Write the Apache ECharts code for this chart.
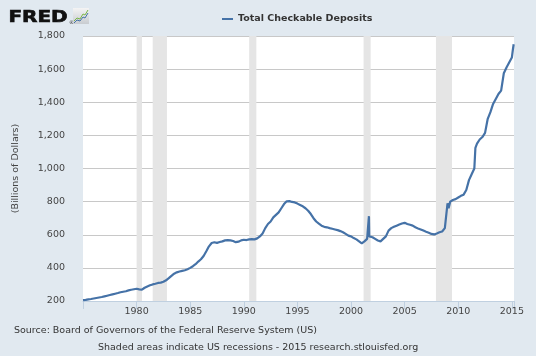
<!DOCTYPE html>
<html>
<head>
<meta charset="utf-8">
<script src="https://cdn.jsdelivr.net/npm/echarts@6/dist/echarts.min.js"></script>
<style>
html,body{margin:0;padding:0;background:#e1e9f0;}
#chart{width:536px;height:356px;}
</style>
</head>
<body>
<div id="chart"></div>
<script>
// Decimal years and Total Checkable Deposits (billions of dollars)
const years = [
1975.0,1975.25,1975.5,1975.75,1976.0,1976.25,1976.5,1976.75,1977.0,1977.25,1977.5,1977.75,
1978.0,1978.25,1978.5,1978.75,1979.0,1979.25,1979.5,1979.75,1980.0,1980.25,1980.5,1980.75,
1981.0,1981.25,1981.5,1981.75,1982.0,1982.25,1982.5,1982.75,1983.0,1983.25,1983.5,1983.75,
1984.0,1984.25,1984.5,1984.75,1985.0,1985.25,1985.5,1985.75,1986.0,1986.25,1986.5,1986.75,
1987.0,1987.25,1987.5,1987.75,1988.0,1988.25,1988.5,1988.75,1989.0,1989.25,1989.5,1989.75,
1990.0,1990.25,1990.5,1990.75,1991.0,1991.25,1991.5,1991.75,1992.0,1992.25,1992.5,1992.75,
1993.0,1993.25,1993.5,1993.75,1994.0,1994.25,1994.5,1994.75,1995.0,1995.25,1995.5,1995.75,
1996.0,1996.25,1996.5,1996.75,1997.0,1997.25,1997.5,1997.75,1998.0,1998.25,1998.5,1998.75,
1999.0,1999.25,1999.5,1999.75,2000.0,2000.25,2000.5,2000.75,2001.0,2001.25,2001.5,2001.67,
2001.7,2001.75,2002.0,2002.25,2002.5,2002.75,2003.0,2003.25,2003.5,2003.75,2004.0,2004.25,
2004.5,2004.75,2005.0,2005.25,2005.5,2005.75,2006.0,2006.25,2006.5,2006.75,2007.0,2007.25,
2007.5,2007.75,2008.0,2008.25,2008.5,2008.75,2008.85,2009.0,2009.1,2009.25,2009.5,2009.75,
2010.0,2010.25,2010.5,2010.75,2011.0,2011.25,2011.5,2011.6,2011.75,2012.0,2012.25,2012.5,
2012.75,2013.0,2013.25,2013.5,2013.75,2014.0,2014.25,2014.5,2014.75,2015.0,2015.1,2015.17
];
const deposits = [
205,207,210,212,215,218,221,224,228,232,236,240,
244,248,253,256,259,264,268,271,274,270,268,280,
288,295,300,304,309,311,316,325,338,352,365,373,
378,382,386,392,400,410,422,438,452,472,500,530,
550,555,551,556,560,566,568,566,562,555,558,566,
570,568,572,573,572,578,590,608,640,665,680,705,
720,735,760,785,802,803,798,795,788,780,772,760,
745,725,700,680,667,655,648,645,640,636,632,628,
622,615,605,595,590,580,572,560,548,560,575,712,
590,592,585,575,565,560,575,590,625,640,648,655,
662,668,672,665,660,655,645,638,632,625,618,612,
605,602,608,615,620,640,700,790,760,800,810,815,
825,835,842,870,930,965,1000,1125,1150,1175,1190,1215,
1300,1340,1390,1420,1450,1470,1575,1610,1640,1670,1720,1750
];
const recessionStarts = [1980.0, 1981.5, 1990.5, 2001.17, 2007.92];
const recessionEnds   = [1980.5, 1982.83, 1991.17, 2001.83, 2009.42];
const seriesName = 'Total Checkable Deposits';

const lineData = years.map((y, i) => [y, deposits[i]]);
const areas = recessionStarts.map((s, i) => [{xAxis: s}, {xAxis: recessionEnds[i]}]);

const font = 'DejaVu Sans';
const chart = echarts.init(document.getElementById('chart'), null, {renderer: 'canvas'});
chart.setOption({
  backgroundColor: '#e1e9f0',
  animation: false,
  textStyle: {fontFamily: font},
  legend: {
    left: 217, top: 9,
    icon: 'rect', itemWidth: 11, itemHeight: 2, itemGap: 4,
    textStyle: {fontFamily: font, fontSize: 9.5, fontWeight: 'bold', color: '#333'},
    data: [seriesName]
  },
  grid: {left: 83, right: 22, top: 36, bottom: 55, show: true, backgroundColor: '#ffffff', borderWidth: 0},
  xAxis: {
    type: 'value', min: 1975, max: 2015.2, interval: 5,
    axisLine: {show: true, lineStyle: {color: '#c0d0e0', width: 1}},
    axisTick: {show: true, length: 8, lineStyle: {color: '#c0d0e0'}},
    splitLine: {show: false},
    axisLabel: {
      margin: 6, fontFamily: font, fontSize: 9.5, color: '#444',
      formatter: v => (Math.abs(v % 5) < 1e-6 && v > 1975) ? String(Math.round(v)) : ''
    }
  },
  yAxis: {
    type: 'value', min: 200, max: 1800, interval: 200,
    name: '(Billions of Dollars)', nameLocation: 'middle', nameGap: 62, nameRotate: 90,
    nameTextStyle: {fontFamily: font, fontSize: 9.5, color: '#444'},
    axisLine: {show: false}, axisTick: {show: false},
    splitLine: {show: true, lineStyle: {color: '#c8c8c8', width: 1}},
    axisLabel: {margin: 18, fontFamily: font, fontSize: 9.5, color: '#444',
      formatter: v => v.toLocaleString('en-US')}
  },
  series: [
    {
      name: 'recessions', type: 'line', data: [], z: 1, silent: true,
      markArea: {silent: true, itemStyle: {color: '#e5e5e5'}, data: areas}
    },
    {
      name: seriesName, type: 'line', data: lineData, z: 3,
      showSymbol: false, symbol: 'none',
      lineStyle: {color: '#4572a7', width: 2.2},
      itemStyle: {color: '#4572a7'}
    }
  ],
  graphic: [
    {type: 'text', left: 8, top: 9, scaleY: 0.82, style: {text: 'FRED', font: 'bold 20px "DejaVu Sans"', fill: '#111', stroke: '#111', lineWidth: 0.8}},
    {type: 'text', left: 69, top: 20, style: {text: '®', font: '5px "DejaVu Sans"', fill: '#333'}},
    {type: 'rect', shape: {x: 73, y: 8, width: 16, height: 16},
      style: {fill: new echarts.graphic.LinearGradient(0, 0, 0, 1, [{offset: 0, color: '#f4f4f4'}, {offset: 1, color: '#c8ccd0'}])}},
    {type: 'polyline', shape: {points: [[74, 21], [77, 18], [80, 19], [83, 14], [85, 15], [88, 10]]},
      style: {stroke: '#7ab648', lineWidth: 1, fill: null}},
    {type: 'polyline', shape: {points: [[74, 23], [77, 20], [80, 21], [83, 17], [85, 18], [88, 13]]},
      style: {stroke: '#4572a7', lineWidth: 1, fill: null}},
    {type: 'text', left: 14, top: 326, style: {text: 'Source: Board of Governors of the Federal Reserve System (US)', font: '9.5px "DejaVu Sans"', fill: '#333'}},
    {type: 'text', left: 98, top: 343, style: {text: 'Shaded areas indicate US recessions - 2015 research.stlouisfed.org', font: '9.5px "DejaVu Sans"', fill: '#333'}}
  ]
});
</script>
</body>
</html>
